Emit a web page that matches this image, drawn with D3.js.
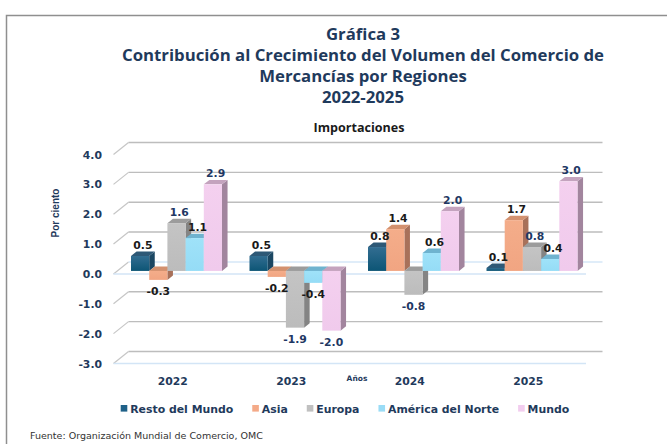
<!DOCTYPE html>
<html>
<head>
<meta charset="utf-8">
<script src="https://cdn.jsdelivr.net/npm/d3@7"></script>
<style>
  body { margin: 0; background: #fff; }
  svg { display: block; }
</style>
</head>
<body>
<svg id="chart" width="667" height="444"></svg>
<script>
'use strict'
//datos
var categories = ["2022", "2023", "2024", "2025"];
var series = ["Resto del Mundo", "Asia", "Europa", "América del Norte", "Mundo"];
var restoMundo = [0.5, 0.5, 0.8, 0.1];
var asia = [-0.3, -0.2, 1.4, 1.7];
var europa = [1.6, -1.9, -0.8, 0.8];
var americaNorte = [1.1, -0.4, 0.6, 0.4];
var mundo = [2.9, -2.0, 2.0, 3.0];
var yTicks = [-3, -2, -1, 0, 1, 2, 3, 4];
var titleLines = ["Gráfica 3", "Contribución al Crecimiento del Volumen del Comercio de", "Mercancías por Regiones", "2022-2025"];

var values = [restoMundo, asia, europa, americaNorte, mundo];
//colores: frente, tapa, lado
var colors = [
    { front: ["#326d91", "#0c5575"], top: "#2d5876", side: "#1b4762", legend: "#1f6188", label: "#1a1a1a" },
    { front: ["#f4ad8a", "#f1a582"], top: "#d3916f", side: "#a8715a", legend: "#f4aa88", label: "#1a1a1a" },
    { front: ["#c4c4c4", "#bcbcbc"], top: "#9c9c9c", side: "#848484", legend: "#c0c0c0", label: "#1f3864" },
    { front: ["#9fe2f9", "#95dcf6"], top: "#6fb3cf", side: "#5c98b1", legend: "#9adcf6", label: "#1a1a1a" },
    { front: ["#f4d0ef", "#f0caec"], top: "#c4a3be", side: "#a2859e", legend: "#f2cdef", label: "#1f3864" }
];
var navy = "#1f3a5c";
var fmt = function (v) { return v.toFixed(1); };

var svg = d3.select("#chart");

//ajusta el tamaño de letra para que el texto ocupe el ancho medido
function fitWidth(sel, target) {
    var size = +sel.attr("font-size");
    var w = sel.node().getComputedTextLength();
    var s = size * target / w;
    sel.attr("font-size", s);
    return s;
}

//marco
svg.append("rect")
    .attr("x", 6.5).attr("y", 15.5)
    .attr("width", 700).attr("height", 460)
    .attr("fill", "none")
    .attr("stroke", "#8f8f8f")
    .attr("stroke-width", 1.5);

//titulo
var titleY = [39.5, 61, 82, 103];
var titles = svg.append("g").selectAll("text")
    .data(titleLines)
    .enter().append("text")
    .attr("x", 363)
    .attr("y", function (d, i) { return titleY[i]; })
    .attr("text-anchor", "middle")
    .attr("font-family", "Open Sans, sans-serif")
    .attr("font-weight", "bold")
    .attr("font-size", 16)
    .attr("fill", navy)
    .text(function (d) { return d; });
var titleSize = fitWidth(titles.filter(function (d, i) { return i === 1; }), 482);
titles.attr("font-size", titleSize);

var sub = svg.append("text")
    .attr("x", 359).attr("y", 131.5)
    .attr("text-anchor", "middle")
    .attr("font-family", "Open Sans, sans-serif")
    .attr("font-weight", "bold")
    .attr("font-size", 12)
    .attr("fill", "#1a1a1a")
    .text("Importaciones");
fitWidth(sub, 91);

//escalas del plano frontal
var depthX = 15, depthY = -12;
var y = d3.scaleLinear().domain([-3, 4]).range([363.5, 154.5]);
var x = d3.scaleBand().domain(categories).range([113.5, 587.5]);
var groupW = x.bandwidth() * 0.768;
var xBar = d3.scaleBand().domain(series).range([0, groupW]);
var f0 = 0.25, fd = 0.37;
var bx = f0 * depthX, by = f0 * depthY;
var ddx = fd * depthX, ddy = fd * depthY;

//rejilla
var grid = svg.append("g");
grid.selectAll(".diag")
    .data(yTicks)
    .enter().append("line")
    .attr("x1", x.range()[0]).attr("y1", function (d) { return y(d); })
    .attr("x2", x.range()[0] + depthX).attr("y2", function (d) { return y(d) + depthY; })
    .attr("stroke", "#c6c6c6").attr("stroke-width", 1.2);
grid.selectAll(".back")
    .data(yTicks)
    .enter().append("line")
    .attr("x1", x.range()[0] + depthX).attr("y1", function (d) { return y(d) + depthY; })
    .attr("x2", x.range()[1] + depthX).attr("y2", function (d) { return y(d) + depthY; })
    .attr("stroke", function (d) { return d === 0 ? "#d6e7f7" : "#bdbdbd"; })
    .attr("stroke-width", 1.4);
grid.selectAll(".front")
    .data([0, -3])
    .enter().append("line")
    .attr("x1", x.range()[0]).attr("y1", function (d) { return y(d); })
    .attr("x2", x.range()[1] - 1.5).attr("y2", function (d) { return y(d); })
    .attr("stroke", "#d3e5f6").attr("stroke-width", 1.4);

//eje y
svg.append("g").selectAll("text")
    .data(yTicks)
    .enter().append("text")
    .attr("x", 102)
    .attr("y", function (d) { return y(d) + 4; })
    .attr("text-anchor", "end")
    .attr("font-family", "DejaVu Sans, sans-serif")
    .attr("font-weight", "bold")
    .attr("font-size", 10.8)
    .attr("fill", navy)
    .text(function (d) { return fmt(d); });

svg.append("text")
    .attr("transform", "translate(58.5,213) rotate(-90)")
    .attr("text-anchor", "middle")
    .attr("font-family", "Liberation Sans Narrow, Liberation Sans, sans-serif")
    .attr("font-weight", "bold")
    .attr("font-size", 10)
    .attr("fill", navy)
    .text("Por ciento");

//gradientes del frente
var defs = svg.append("defs");
colors.forEach(function (c, i) {
    var g = defs.append("linearGradient").attr("id", "grad" + i)
        .attr("x1", 0).attr("y1", 0).attr("x2", 0).attr("y2", 1);
    g.append("stop").attr("offset", "0%").attr("stop-color", c.front[0]);
    g.append("stop").attr("offset", "100%").attr("stop-color", c.front[1]);
});

//preparar barras
var bars = [];
categories.forEach(function (cat, ci) {
    series.forEach(function (s, si) {
        var v = values[si][ci];
        var x0 = x(cat) + (x.bandwidth() - groupW) / 2 + xBar(s) + bx;
        var x1 = x0 + xBar.bandwidth();
        var yTop = Math.min(y(v), y(0)) + by;
        var yBot = Math.max(y(v), y(0)) + by;
        bars.push({ cat: cat, s: s, si: si, v: v, x0: x0, x1: x1, yTop: yTop, yBot: yBot });
    });
});

function poly(pts) {
    return "M" + pts.map(function (p) { return p[0] + "," + p[1]; }).join("L") + "Z";
}

var gBars = svg.append("g");
bars.forEach(function (b) {
    var c = colors[b.si];
    var g = gBars.append("g");
    //lado
    g.append("path")
        .attr("d", poly([[b.x1, b.yTop], [b.x1 + ddx, b.yTop + ddy], [b.x1 + ddx, b.yBot + ddy], [b.x1, b.yBot]]))
        .attr("fill", c.side);
    //tapa
    g.append("path")
        .attr("d", poly([[b.x0, b.yTop], [b.x0 + ddx, b.yTop + ddy], [b.x1 + ddx, b.yTop + ddy], [b.x1, b.yTop]]))
        .attr("fill", c.top);
    //frente
    g.append("rect")
        .attr("x", b.x0).attr("y", b.yTop)
        .attr("width", b.x1 - b.x0).attr("height", Math.max(0.5, b.yBot - b.yTop))
        .attr("fill", "url(#grad" + b.si + ")");
});

//etiquetas de datos
svg.append("g").selectAll("text")
    .data(bars)
    .enter().append("text")
    .attr("x", function (d) { return (d.x0 + d.x1) / 2 + (d.v >= 0 ? ddx / 2 : 0); })
    .attr("y", function (d) { return d.v >= 0 ? d.yTop - 7 : d.yBot + 15; })
    .attr("text-anchor", "middle")
    .attr("font-family", "DejaVu Sans, sans-serif")
    .attr("font-weight", "bold")
    .attr("font-size", 10.8)
    .attr("fill", function (d) { return colors[d.si].label; })
    .text(function (d) { return fmt(d.v); });

//eje x
svg.append("g").selectAll("text")
    .data(categories)
    .enter().append("text")
    .attr("x", function (d) { return x(d) + x.bandwidth() / 2; })
    .attr("y", 384.5)
    .attr("text-anchor", "middle")
    .attr("font-family", "DejaVu Sans, sans-serif")
    .attr("font-weight", "bold")
    .attr("font-size", 10.8)
    .attr("fill", navy)
    .text(function (d) { return d; });

svg.append("text")
    .attr("x", 357).attr("y", 380.5)
    .attr("text-anchor", "middle")
    .attr("font-family", "DejaVu Sans, sans-serif")
    .attr("font-weight", "bold")
    .attr("font-size", 7.5)
    .attr("fill", navy)
    .text("Años");

//leyenda
var legend = svg.append("g");
var lx = 120.7;
series.forEach(function (s, i) {
    legend.append("rect")
        .attr("x", lx).attr("y", 405)
        .attr("width", 6.6).attr("height", 6.6)
        .attr("fill", colors[i].legend);
    var t = legend.append("text")
        .attr("x", lx + 9.5).attr("y", 412.5)
        .attr("font-family", "DejaVu Sans, sans-serif")
        .attr("font-weight", "bold")
        .attr("font-size", 10.9)
        .attr("fill", navy)
        .text(s);
    lx += 9.5 + t.node().getComputedTextLength() + 19;
});

//fuente
var src = svg.append("text")
    .attr("x", 30).attr("y", 439)
    .attr("font-family", "DejaVu Sans, sans-serif")
    .attr("font-size", 9)
    .attr("fill", "#333")
    .text("Fuente: Organización Mundial de Comercio, OMC");
fitWidth(src, 233);
</script>
</body>
</html>
